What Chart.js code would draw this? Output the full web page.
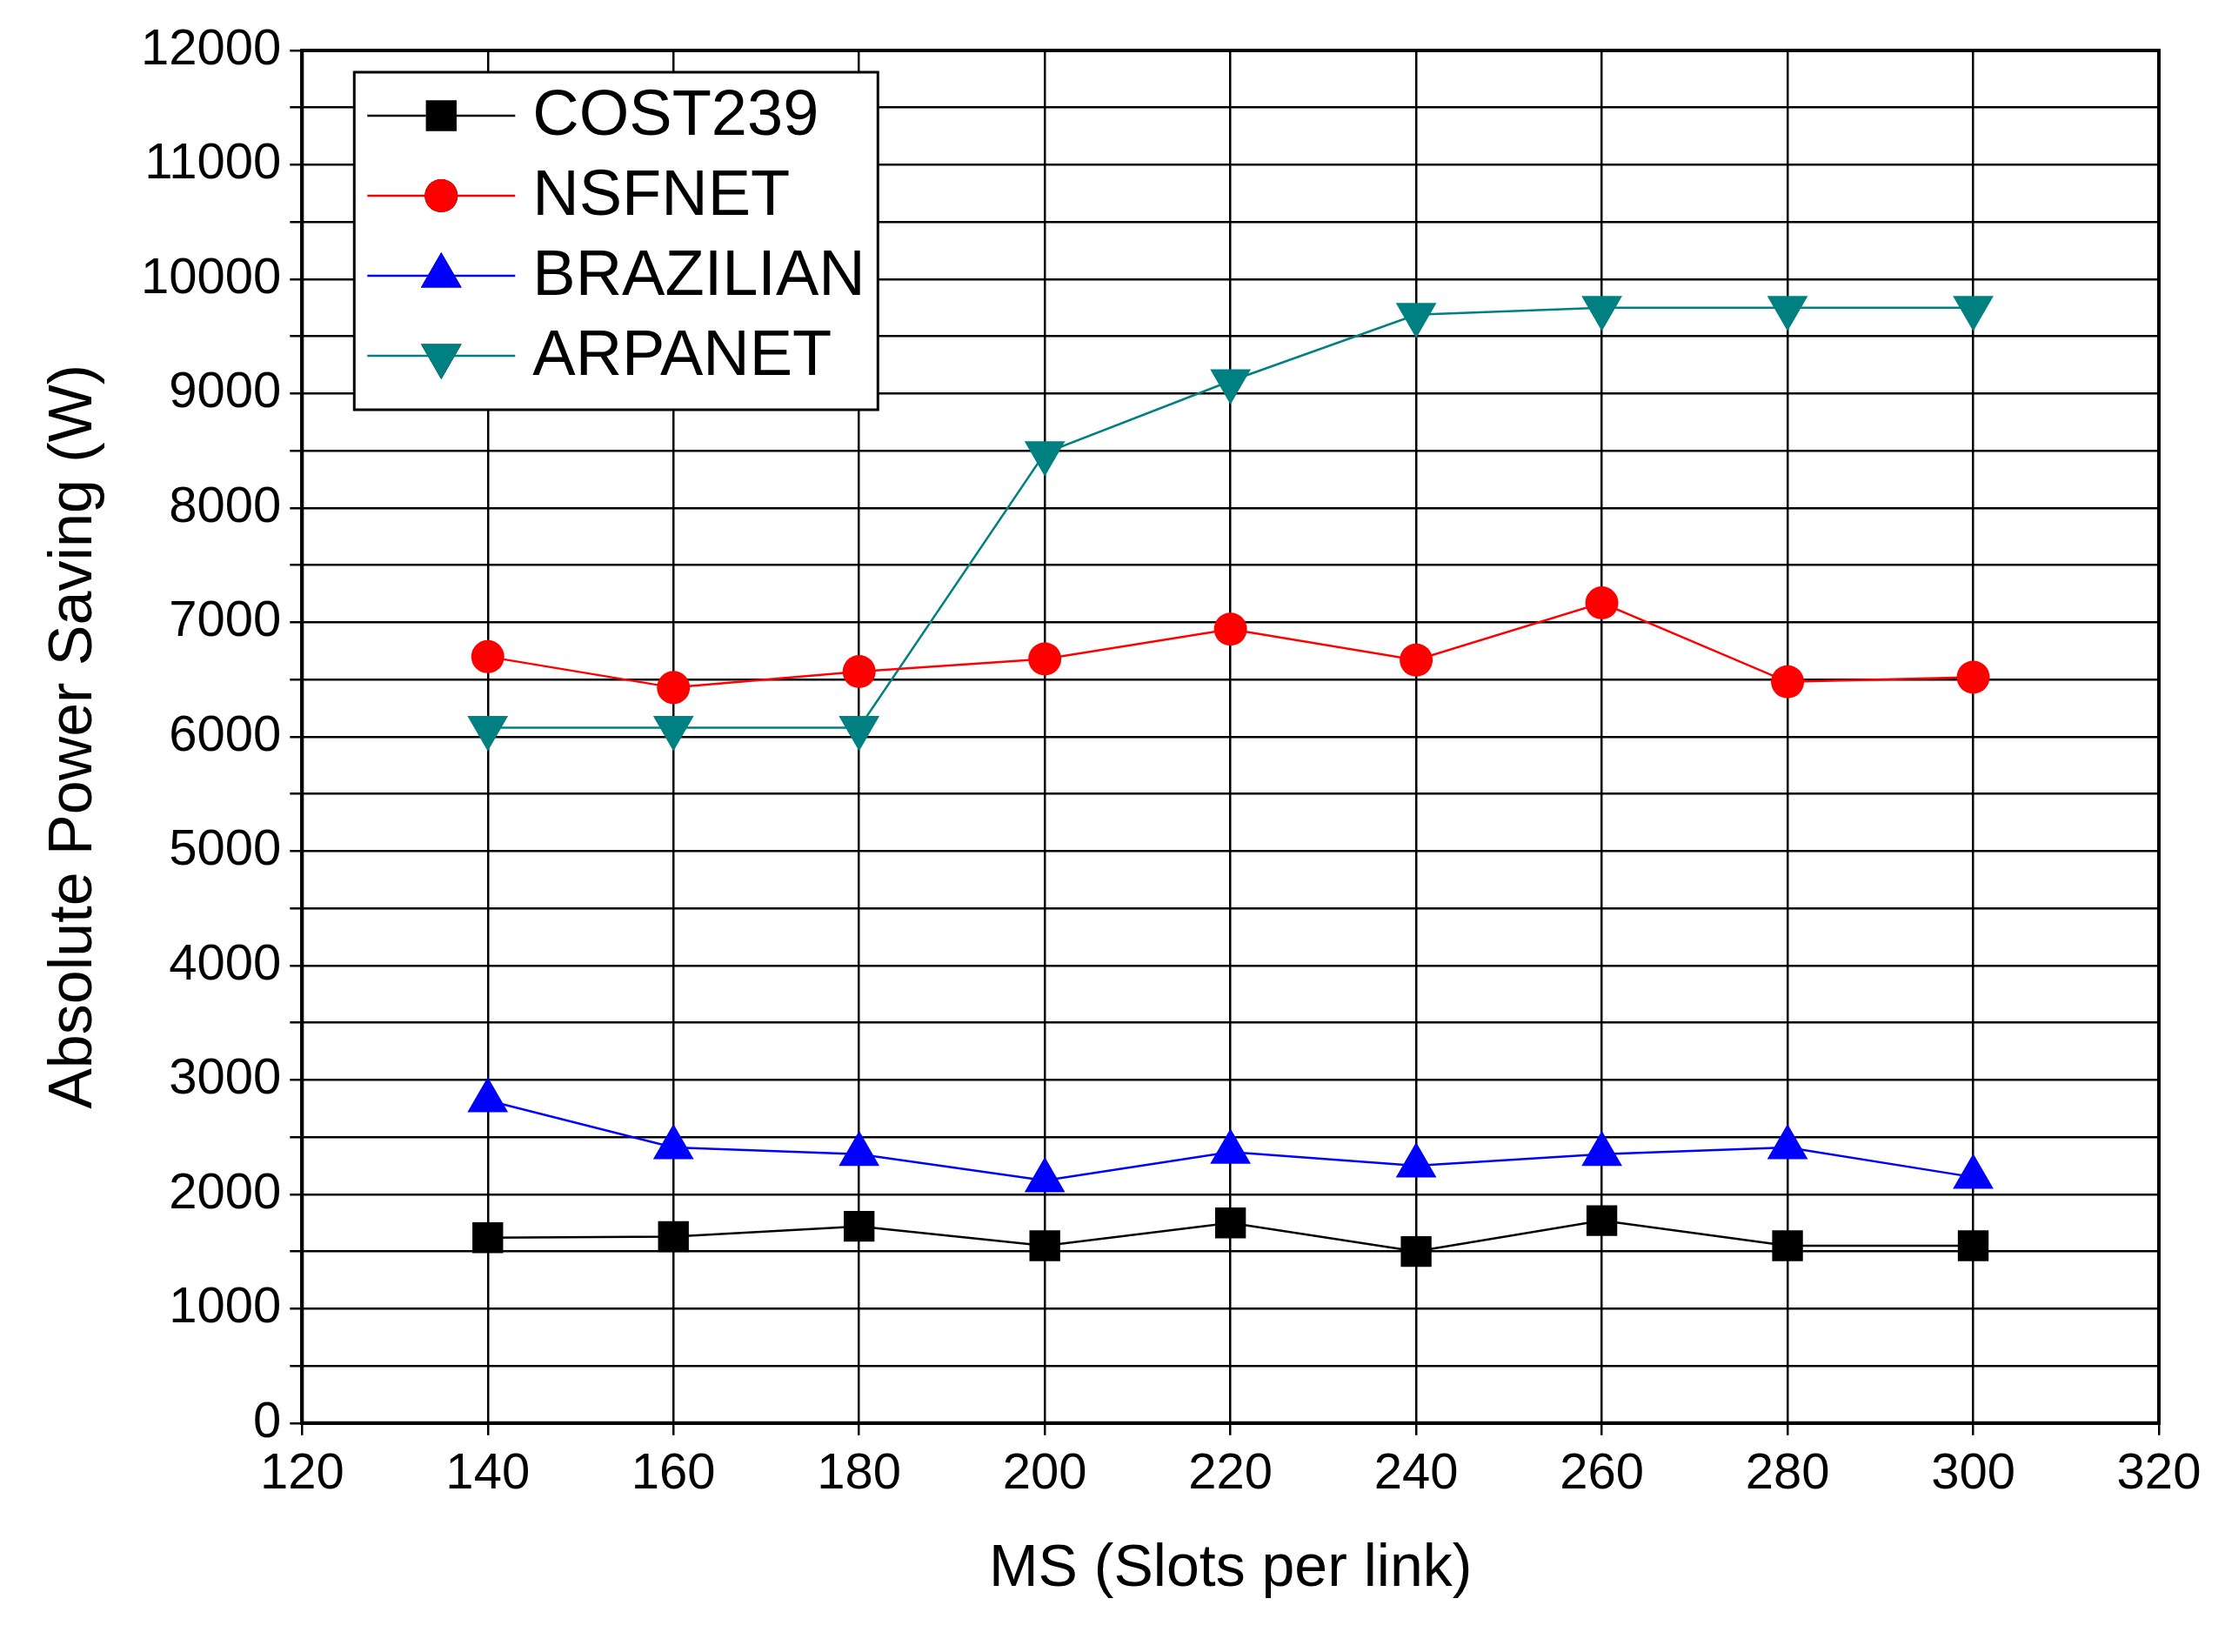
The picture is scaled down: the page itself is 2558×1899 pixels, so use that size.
<!DOCTYPE html>
<html><head><meta charset="utf-8">
<script src="https://cdn.jsdelivr.net/npm/chart.js@4"></script>
<style>html,body{margin:0;background:#fff}#wrap{width:2558px;height:1899px}</style>
</head><body><div id="wrap"><canvas id="c"></canvas></div>
<script>
const slots = [140, 160, 180, 200, 220, 240, 260, 280, 300];
const cost239 = [1620, 1630, 1720, 1550, 1750, 1500, 1770, 1550, 1550];
const nsfnet = [6700, 6430, 6570, 6680, 6940, 6670, 7170, 6480, 6520];
const brazilian = [2820, 2410, 2350, 2120, 2370, 2250, 2350, 2410, 2150];
const arpanet = [6080, 6080, 6080, 8480, 9110, 9690, 9750, 9750, 9750];

const font = 'Liberation Sans, Arial, sans-serif';
function pts(arr) { return slots.map((x, i) => ({ x: x, y: arr[i] })); }
function ds(label, arr, color, style, rot, r) {
    return { label: label, data: pts(arr), borderColor: color, backgroundColor: color,
        borderWidth: 2.5, pointStyle: style, pointRotation: rot || 0,
        pointRadius: r, pointBorderWidth: 0 };
}

// boxed legend drawn inside the plot, top-left
const boxLegend = {
    id: 'boxLegend',
    afterDraw(chart) {
        const c = chart.ctx, a = chart.chartArea;
        const x0 = a.left + 60, y0 = a.top + 25, w = 602, rowH = 92;
        c.save();
        c.fillStyle = '#fff';
        c.fillRect(x0, y0, w, rowH * 4 + 20);
        c.strokeStyle = '#000'; c.lineWidth = 3;
        c.strokeRect(x0, y0, w, rowH * 4 + 20);
        chart.data.datasets.forEach((d, i) => {
            const cy = y0 + 50 + i * rowH;
            c.strokeStyle = d.borderColor; c.lineWidth = 2.5;
            c.beginPath(); c.moveTo(x0 + 15, cy); c.lineTo(x0 + 185, cy); c.stroke();
            Chart.helpers.drawPoint(c, { pointStyle: d.pointStyle, rotation: d.pointRotation,
                radius: d.pointRadius, borderWidth: 0 }, x0 + 100, cy);
            c.fillStyle = d.borderColor; c.fill();
            c.fillStyle = '#000';
            c.font = '74px ' + font;
            c.textBaseline = 'middle';
            c.fillText(d.label, x0 + 205, cy + 2);
        });
        c.restore();
    }
};

new Chart(document.getElementById('c'), {
    type: 'line',
    data: { datasets: [
        ds('COST239', cost239, '#000000', 'rect', 0, 25),
        ds('NSFNET', nsfnet, '#ff0000', 'circle', 0, 19),
        ds('BRAZILIAN', brazilian, '#0000ff', 'triangle', 0, 27),
        ds('ARPANET', arpanet, '#008080', 'triangle', 180, 27)
    ] },
    options: {
        responsive: true, maintainAspectRatio: false, animation: false,
        layout: { padding: { top: 58, right: 76, left: 40, bottom: 50 } },
        plugins: { legend: { display: false }, tooltip: { enabled: false } },
        scales: {
            x: {
                type: 'linear', min: 120, max: 320,
                ticks: { stepSize: 20, color: '#000', font: { size: 58, family: font }, padding: 10 },
                grid: { color: '#000', lineWidth: 2.5, tickLength: 14,
                    drawOnChartArea: true },
                border: { color: '#000', width: 4 },
                title: { display: true, text: 'MS (Slots per link)', color: '#000',
                    font: { size: 68, family: font }, padding: { top: 24 } }
            },
            y: {
                min: 0, max: 12000,
                ticks: { stepSize: 500, color: '#000', font: { size: 58, family: font }, padding: 10,
                    autoSkip: false,
                    callback: v => v % 1000 === 0 ? String(v) : '' },
                grid: { color: '#000', lineWidth: 2.5, tickLength: 14 },
                border: { color: '#000', width: 4 },
                title: { display: true, text: 'Absolute Power Saving (W)', color: '#000',
                    font: { size: 70, family: font }, padding: { bottom: 24 } }
            }
        }
    },
    plugins: [boxLegend, {
        id: 'frame',
        afterDraw(chart) {
            const c = chart.ctx, a = chart.chartArea;
            c.save(); c.strokeStyle = '#000'; c.lineWidth = 4;
            c.strokeRect(a.left, a.top, a.right - a.left, a.bottom - a.top);
            c.restore();
        }
    }]
});
</script></body></html>
